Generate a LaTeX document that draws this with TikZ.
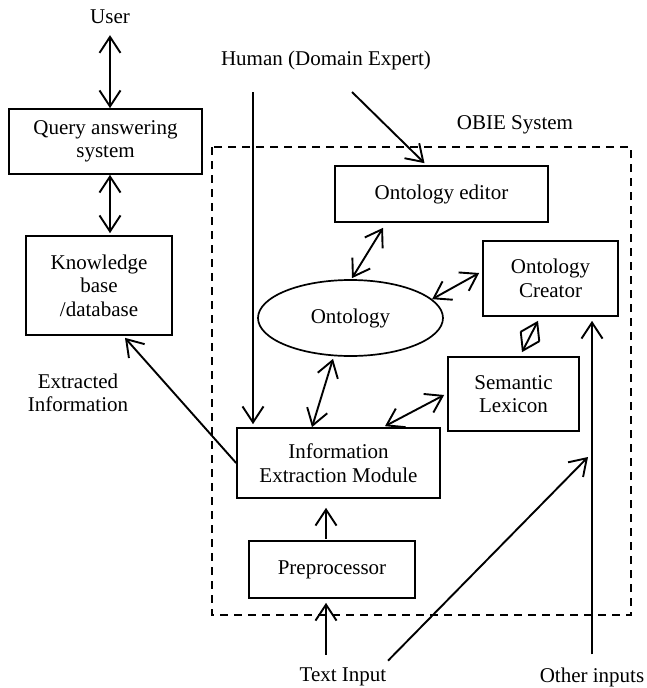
\documentclass[tikz,border=0pt]{standalone}
\usepackage{fontspec}
\setmainfont{Liberation Serif}
\usetikzlibrary{arrows.meta,calc,shapes.geometric}
\begin{document}
\begin{tikzpicture}[x=1pt,y=-1pt,
  every node/.style={font=\fontsize{21}{23.5}\selectfont, align=center, inner sep=0pt},
  box/.style={draw, line width=1.7pt},
  lbl/.style={},
  conn/.style={line width=1.9pt},
  both/.style={conn, {Straight Barb[length=16pt,width=21pt]}-{Straight Barb[length=16pt,width=21pt]}},
  to/.style={conn, -{Straight Barb[length=16pt,width=21pt]}}]
\useasboundingbox (0,0) rectangle (646,688);

% dashed system boundary
\draw[line width=1.9pt, dash pattern=on 8pt off 6pt] (212,147) rectangle (631,615);

% labels
\node[lbl] (user) at (110,17) {User};
\node[lbl] (human) at (326,60) {Human (Domain Expert)};
\node[lbl] (obie) at (515,125) {OBIE System};
\node[lbl] (extr) at (78,393) {Extracted\\Information};
\node[lbl] (tin) at (343,677) {Text Input};
\node[lbl] (oin) at (592,677) {Other inputs};

% boxes
\node[box, minimum width=193pt, minimum height=65pt] (qas) at (105.5,141.5) {Query answering\\system};
\node[box, minimum width=146pt, minimum height=99pt] (kb) at (99,285.5) {Knowledge\\base\\/database};
\node[box, minimum width=213pt, minimum height=56pt] (oe) at (441.5,194) {Ontology editor};
\node[box, minimum width=135pt, minimum height=75pt] (oc) at (550.5,278.5) {Ontology\\Creator};
\node[box, minimum width=131pt, minimum height=74pt] (sl) at (513.5,394) {Semantic\\Lexicon};
\node[box, minimum width=203pt, minimum height=70pt] (iem) at (338.5,463) {Information\\Extraction Module};
\node[box, minimum width=166pt, minimum height=57pt] (pre) at (332,569.5) {Preprocessor};
\node[box, ellipse, minimum width=185pt, minimum height=76pt] (ont) at (350.5,318) {Ontology};

% free ends
\coordinate (h1) at (253,92);
\coordinate (h2) at (352,92);
\coordinate (oi2) at (588,457);

% connectors
\draw[both] ($(user.south)+(0,11)$) -- (qas.north -| user);
\draw[both] (qas.south -| user) -- ($(kb.north -| user)+(0,-2)$);
\draw[to] (iem.west) -- ($(kb.south)+(26,2)$);
\draw[to] (h1) -- ($(h1 |- iem.north)+(0,-3)$);
\draw[to] (h2) -- ($(oe.north)+(-17,-2)$);
\draw[both] ($(oe.south)+(-58.5,5)$) -- ($(ont.north)+(1.5,-1)$);
\draw[both] (ont.13) -- ($(oc.west)+(-3,-5.5)$);
\draw[both] ($(oc.south)+(-12.5,4)$) -- ($(sl.north)+(8.5,-4)$);
\draw[both] ($(ont.south)+(-17.5,2)$) -- ($(iem.north)+(-26.5,0)$);
\draw[both] ($(sl.west)+(-3,1)$) -- ($(iem.north)+(46.5,-1)$);
\draw[to] ($(pre.north)+(-6,-1)$) -- ($(iem.south)+(-12.5,9)$);
\draw[to] ($(tin.north)+(-17,-13)$) -- ($(pre.south)+(-6,4)$);
\draw[to] ($(tin.north)+(45,-7)$) -- (oi2);
\draw[to] ($(oin.north)+(0,-13)$) -- ($(oc.south)+(41.5,4)$);
\end{tikzpicture}
\end{document}
